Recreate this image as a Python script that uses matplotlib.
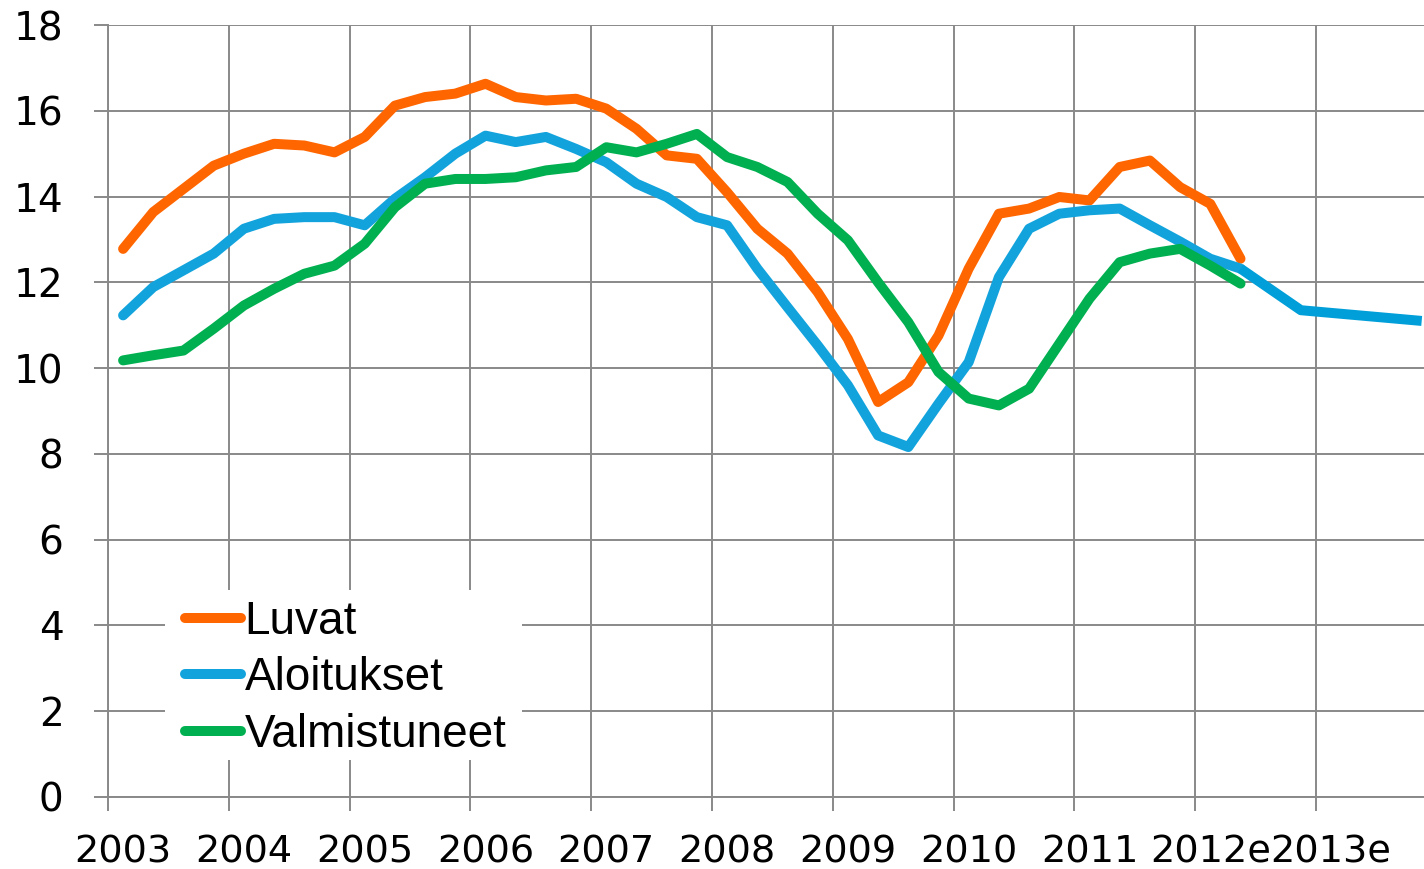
import numpy as np
import matplotlib
matplotlib.use("Agg")
import matplotlib.pyplot as plt
from matplotlib.patches import Rectangle

# neljännesvuosittaiset arvot 2003Q1 ... 2012Q2
luvat = [12.78, 13.64, 14.18, 14.72, 15.0, 15.23, 15.19, 15.03,
         15.39, 16.12, 16.32, 16.40, 16.63, 16.32, 16.24, 16.28,
         16.05, 15.58, 14.96, 14.88, 14.10, 13.25, 12.67, 11.77,
         10.68, 9.21, 9.67, 10.76, 12.32, 13.60, 13.72, 13.99,
         13.91, 14.69, 14.84, 14.22, 13.83, 12.55]
aloitukset = [11.23, 11.89, 12.28, 12.67, 13.25, 13.48, 13.52, 13.52,
              13.33, 13.95, 14.45, 15.0, 15.42, 15.27, 15.39, 15.11,
              14.80, 14.30, 13.99, 13.52, 13.33, 12.32, 11.42, 10.53,
              9.60, 8.43, 8.16, 9.17, 10.14, 12.12, 13.25, 13.60,
              13.68, 13.72, 13.33, 12.95, 12.55, 12.32]
valmistuneet = [10.18, 10.30, 10.41, 10.92, 11.46, 11.85, 12.20, 12.39,
                12.90, 13.75, 14.30, 14.41, 14.41, 14.45, 14.61, 14.69,
                15.15, 15.03, 15.23, 15.46, 14.92, 14.69, 14.34, 13.60,
                12.98, 12.00, 11.07, 9.91, 9.29, 9.13, 9.52, 10.57,
                11.62, 12.47, 12.67, 12.78, 12.39, 11.97]
# ennuste aloituksille
ennuste_x = [2012.375, 2012.875, 2013.875]
ennuste_aloitukset = [12.32, 11.35, 11.10]

vuodet = list(range(2003, 2014))
vuosi_nimet = ["2003", "2004", "2005", "2006", "2007", "2008", "2009",
               "2010", "2011", "2012e", "2013e"]

x = 2003.125 + 0.25 * np.arange(len(luvat))

fig = plt.figure(figsize=(14.24, 8.69), dpi=100)
ax = fig.add_axes([108 / 1424, 1 - 797 / 869, 1 - 108 / 1424, (797 - 25) / 869])

grey = "#898989"
lw = 7.2
ax.plot(x, luvat, color="#ff6600", lw=lw, solid_capstyle="round",
        solid_joinstyle="round", label="Luvat", zorder=3)
ax.plot(x, aloitukset, color="#12a3dd", lw=lw, solid_capstyle="round",
        solid_joinstyle="round", label="Aloitukset", zorder=3)
ax.plot(ennuste_x, ennuste_aloitukset, color="#009fd9", lw=lw,
        solid_capstyle="butt", solid_joinstyle="round", zorder=3)
ax.plot(x, valmistuneet, color="#00b050", lw=lw, solid_capstyle="round",
        solid_joinstyle="round", label="Valmistuneet", zorder=3)

ax.set_xlim(2003, 2003 + (1424 - 108) / 120.8)
ax.set_ylim(0, 18)
ax.set_yticks(np.arange(0, 19, 2))
ax.set_xticks(vuodet)
ax.set_xticklabels([])
ax.set_xticks([v + 0.125 for v in vuodet], minor=True)
ax.set_xticklabels(vuosi_nimet, minor=True)

ax.grid(True, which="major", color=grey, lw=1.4)
ax.set_axisbelow(True)
for s in ["top", "right"]:
    ax.spines[s].set_visible(False)
for s in ["left", "bottom"]:
    ax.spines[s].set_color(grey)
    ax.spines[s].set_linewidth(1.4)

ax.tick_params(axis="both", which="major", length=10, width=1.4, color=grey,
               direction="out")
ax.tick_params(axis="y", labelsize=28, pad=22)
ax.tick_params(axis="x", which="minor", length=0, labelsize=27.5, pad=27)
for t in ax.get_yticklabels() + ax.get_xticklabels(minor=True):
    t.set_fontfamily("DejaVu Sans")

# valkoinen tausta selitteelle
ax.add_patch(Rectangle((165 / 1424, 1 - 760 / 869), (522 - 165) / 1424,
                       (760 - 590) / 869, transform=fig.transFigure,
                       facecolor="white", edgecolor="none", zorder=2))

leg = ax.legend(loc="upper left", bbox_to_anchor=(185 / 1424, 1 - 600 / 869),
                bbox_transform=fig.transFigure, frameon=False, borderpad=0,
                prop={"family": "Liberation Sans", "size": 33},
                handlelength=1.22, handletextpad=0.08, labelspacing=0.27,
                borderaxespad=0)
for h in leg.get_lines():
    h.set_solid_capstyle("round")
leg.set_zorder(4)

fig.savefig("out.png", dpi=100)
